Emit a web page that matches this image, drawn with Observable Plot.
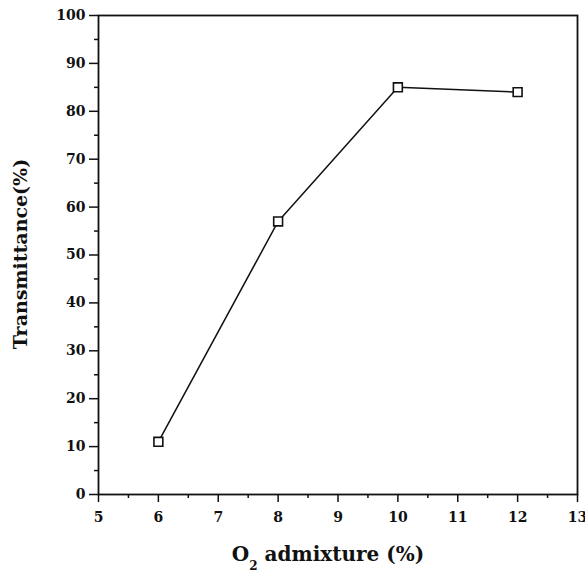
<!DOCTYPE html>
<html>
<head>
<meta charset="utf-8">
<script src="https://cdn.jsdelivr.net/npm/d3@7"></script>
<script src="https://cdn.jsdelivr.net/npm/@observablehq/plot@0.6"></script>
<style>
  html, body { margin: 0; padding: 0; background: #fff; }
  #chart { width: 585px; height: 575px; }
</style>
</head>
<body>
<div id="chart"></div>
<script>
const o2Admixture = [6, 8, 10, 12];
const transmittance = [11, 57, 85, 84];
const xMajorTicks = [5, 6, 7, 8, 9, 10, 11, 12, 13];
const xMinorTicks = [5.5, 6.5, 7.5, 8.5, 9.5, 10.5, 11.5, 12.5];
const yMajorTicks = [0, 10, 20, 30, 40, 50, 60, 70, 80, 90, 100];
const yMinorTicks = [5, 15, 25, 35, 45, 55, 65, 75, 85, 95];
const xLabelMain = "O";
const xLabelSub = "2";
const xLabelRest = " admixture (%)";
const yLabel = "Transmittance(%)";

const data = o2Admixture.map((x, i) => ({x, y: transmittance[i]}));
const font = "'DejaVu Serif', 'Liberation Serif', serif";

const plot = Plot.plot({
  width: 585,
  height: 575,
  marginLeft: 98,
  marginRight: 8,
  marginTop: 15,
  marginBottom: 81,
  style: {fontFamily: font, fontSize: "14px", fontWeight: "bold", color: "#111", background: "#fff"},
  x: {domain: [5, 13]},
  y: {domain: [0, 100]},
  marks: [
    Plot.axisX({ticks: xMajorTicks, tickSize: 8, tickPadding: 10, tickFormat: d => String(d), label: null, strokeWidth: 1.5}),
    Plot.axisX({ticks: xMinorTicks, tickSize: 4, tickFormat: () => "", label: null, strokeWidth: 1.5}),
    Plot.axisY({ticks: yMajorTicks, tickSize: 9, tickPadding: 4, tickFormat: d => String(d), label: null, strokeWidth: 1.5}),
    Plot.axisY({ticks: yMinorTicks, tickSize: 4, tickFormat: () => "", label: null, strokeWidth: 1.5}),
    Plot.frame({stroke: "#111", strokeWidth: 1.8}),
    Plot.line(data, {x: "x", y: "y", stroke: "#111", strokeWidth: 1.5}),
    Plot.dot(data, {x: "x", y: "y", symbol: "square", r: 5, fill: "white", stroke: "#111", strokeWidth: 1.6})
  ]
});

const svg = d3.select(plot);
// x-axis title with subscript
const xt = svg.append("text")
  .attr("x", 328)
  .attr("y", 561)
  .attr("text-anchor", "middle")
  .attr("font-family", font)
  .attr("font-weight", "bold")
  .attr("font-size", 20)
  .attr("fill", "#111");
xt.append("tspan").text(xLabelMain);
xt.append("tspan").attr("font-size", 12).attr("dy", 9).text(xLabelSub);
xt.append("tspan").attr("dy", -9).text(xLabelRest);
// y-axis title
svg.append("text")
  .attr("transform", "translate(27,254) rotate(-90)")
  .attr("text-anchor", "middle")
  .attr("font-family", font)
  .attr("font-weight", "bold")
  .attr("font-size", 19)
  .attr("fill", "#111")
  .text(yLabel);

document.getElementById("chart").appendChild(plot);
</script>
</body>
</html>
